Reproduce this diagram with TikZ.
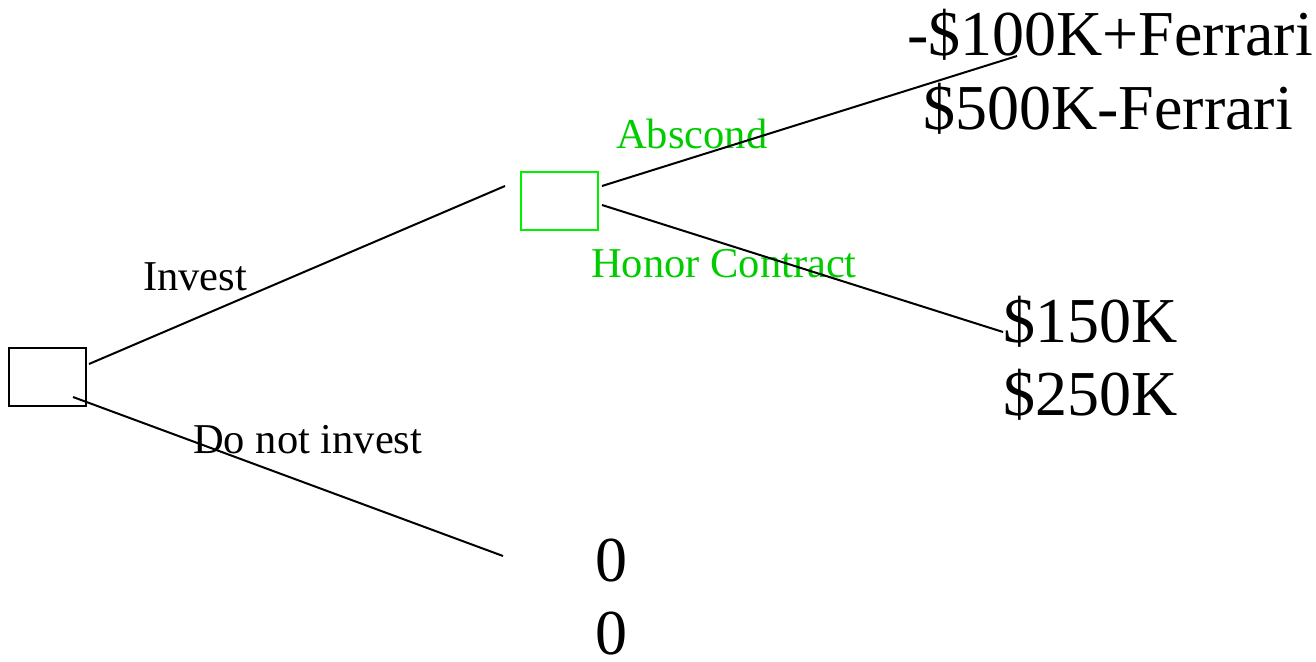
\documentclass[tikz,border=0pt]{standalone}
\usepackage{fontspec}
\setmainfont{Liberation Serif}
\definecolor{boxgreen}{RGB}{0,240,0}
\definecolor{labelgreen}{RGB}{0,204,0}
\begin{document}
\begin{tikzpicture}[x=1pt,y=-1pt,
  decision/.style={draw,line width=2pt,minimum width=77pt,minimum height=58pt,inner sep=0pt},
  branch/.style={line width=2pt,black},
  smalllabel/.style={anchor=base west,inner sep=0pt,font=\fontsize{42.5}{50}\selectfont},
  payoff/.style={anchor=base west,inner sep=0pt,font=\fontsize{64}{73}\selectfont}]
\useasboundingbox (0,0) rectangle (1316,661);

% decision boxes
\node[decision] (root) at (47.5,377) {};
\node[decision,draw=boxgreen] (agent) at (559,200.5) {};

% branch labels
\node[smalllabel] (linvest) at (143,290) {Invest};
\node[smalllabel] (lnot) at (193,453) {Do not invest};
\node[smalllabel,text=labelgreen] (labscond) at (616,148) {Abscond};
\node[smalllabel,text=labelgreen] (lhonor) at (591,277) {Honor Contract};

% payoffs
\node[payoff] (p1a) at (907,56) {-\$100K+Ferrari};
\node[payoff] (p1b) at (923,129) {\$500K-Ferrari};
\node[payoff] (p2a) at (1003,342) {\$150K};
\node[payoff] (p2b) at (1003,415) {\$250K};
\node[payoff] (p3a) at (595,581) {0};
\node[payoff,text depth=0pt] (p3b) at (595,654) {0};

% branch end points
\coordinate (rootUp) at (89,364);
\coordinate (rootDown) at (73,397);
\coordinate (investEnd) at (505,186);
\coordinate (notEnd) at (503,556);
\coordinate (agentUp) at (602,186);
\coordinate (agentDown) at (602,205);
\coordinate (abscondEnd) at (1017,56);
\coordinate (honorEnd) at (1003,332);

% branches
\draw[branch] (rootUp) -- (investEnd);
\draw[branch] (rootDown) -- (notEnd);
\draw[branch] (agentUp) -- (abscondEnd);
\draw[branch] (agentDown) -- (honorEnd);
\end{tikzpicture}
\end{document}
